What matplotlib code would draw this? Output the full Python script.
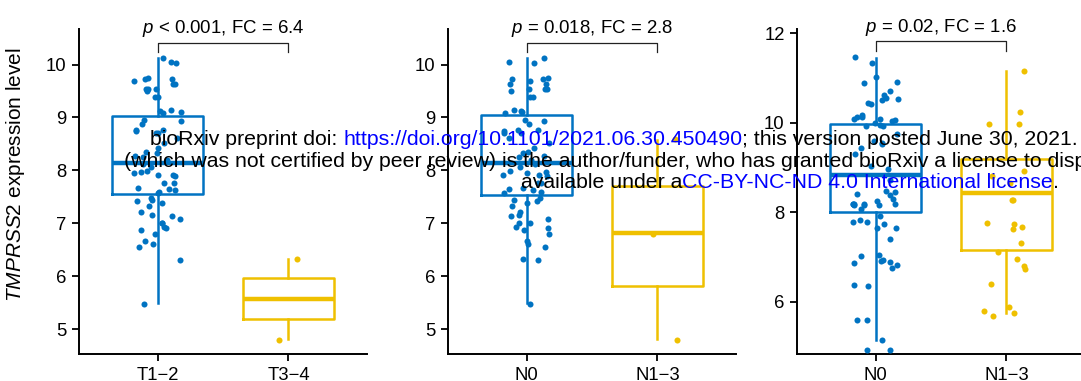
import matplotlib
matplotlib.use("Agg")
import matplotlib.pyplot as plt
import numpy as np

plt.rcParams['font.family'] = ['Liberation Sans', 'DejaVu Sans']
plt.rcParams['mathtext.fontset'] = 'custom'
plt.rcParams['mathtext.rm'] = 'Liberation Sans'
plt.rcParams['mathtext.it'] = 'Liberation Sans:italic'

BLUE = '#0073C2'
GOLD = '#EFC000'

# ---- data ----
low_vals = [10.13, 10.03, 10.05, 9.73, 9.75, 9.63, 9.69, 9.64, 9.73, 9.54, 9.53, 9.50,
            9.53, 9.39, 9.39, 9.13, 9.10, 9.15, 9.09, 8.94, 8.96, 8.87, 8.77, 8.77,
            8.74, 8.71, 8.71, 8.62, 8.51, 8.42, 8.33, 8.35, 8.28, 8.25, 8.19, 8.13,
            8.07, 7.96, 7.92, 7.97, 7.98, 7.90, 7.91, 7.77, 7.77, 7.65, 7.66, 7.60,
            7.57, 7.63, 7.48, 7.38, 7.43, 7.44, 7.33, 7.21, 7.14, 7.16, 7.09, 7.00,
            7.01, 6.94, 6.91, 6.87, 6.80, 6.67, 6.61, 6.55, 6.31, 5.48]

t_groups = ['T1\u22122', 'T3\u22124']
t12_vals = low_vals
t34_vals = [6.33, 4.80]
t_stats = [(5.50, 7.55, 8.14, 9.02, 10.13), (4.81, 5.19, 5.57, 5.96, 6.33)]
t_test = ('<', '0.001', '6.4')

n_groups = ['N0', 'N1\u22123']
n0_vals = low_vals + [6.33]
n13_vals = [8.60, 6.80, 4.80]
n_stats = [(5.50, 7.53, 8.14, 9.05, 10.13), (4.82, 5.81, 6.81, 7.70, 8.58)]
n_test = ('=', '0.018', '2.8')

m_groups = ['N0', 'N1\u22123']
m0_vals = [11.48, 11.33, 11.02, 10.92, 10.88, 10.71, 10.62, 10.56, 10.50, 10.53, 10.44,
           10.41, 10.12, 10.08, 10.17, 10.06, 10.04, 10.14, 10.09, 9.99, 9.96, 9.93,
           9.93, 9.74, 9.59, 9.55, 9.52, 9.43, 9.31, 9.03, 8.96, 8.73, 8.47, 8.41,
           8.45, 8.38, 8.30, 8.26, 8.19, 8.15, 8.19, 8.19, 8.19, 8.17, 8.08, 8.15,
           8.18, 7.92, 7.83, 7.74, 7.77, 7.77, 7.65, 7.65, 7.40, 6.94, 6.91, 7.01,
           7.05, 6.86, 6.89, 6.81, 6.76, 6.38, 6.34, 5.59, 5.58, 5.13, 4.92, 4.92]
m13_vals = [11.16, 10.24, 9.98, 9.98, 8.92, 8.80, 8.66, 8.28, 8.28, 7.76, 7.74, 7.62,
            7.66, 7.31, 7.12, 6.96, 6.79, 6.73, 6.39, 5.78, 5.74, 5.68, 5.87]
m_stats = [(5.14, 8.00, 8.84, 9.97, 11.46), (5.74, 7.15, 8.43, 9.18, 11.16)]
m_test = ('=', '0.02', '1.6')

panels = [
    (t_groups, [t12_vals, t34_vals], t_stats, t_test, (4.528, 10.68), [5, 6, 7, 8, 9, 10], 10.415, 10.24),
    (n_groups, [n0_vals, n13_vals], n_stats, n_test, (4.528, 10.68), [5, 6, 7, 8, 9, 10], 10.415, 10.24),
    (m_groups, [m0_vals, m13_vals], m_stats, m_test, (4.82, 12.11), [6, 8, 10, 12], 11.82, 11.61),
]

W, H = 1081, 381
fig = plt.figure(figsize=(W / 100, H / 100), dpi=100)

lefts = [79, 448, 797]
rng = np.random.default_rng(7)
for left, (groups, vals, stats, test, ylim, yticks, brk_y, brk_tip) in zip(lefts, panels):
    ax = fig.add_axes([left / W, (H - 354.3) / H, 288 / W, (354.3 - 28.5) / H])
    colors = [BLUE, GOLD]
    for i, (v, s, c) in enumerate(zip(vals, stats, colors)):
        pos = i + 1
        st = dict(whislo=s[0], q1=s[1], med=s[2], q3=s[3], whishi=s[4], fliers=[])
        ax.bxp([st], positions=[pos], widths=0.7, showcaps=False,
               boxprops=dict(color=c, lw=1.8),
               whiskerprops=dict(color=c, lw=1.8),
               medianprops=dict(color=c, lw=3.2, solid_capstyle='butt'))
        jit = rng.uniform(-0.18, 0.18, len(v))
        ax.scatter(pos + jit, v, s=19, color=c, lw=0, zorder=3)
    ax.set_xlim(0.4, 2.6)
    ax.set_ylim(*ylim)
    ax.set_yticks(yticks)
    ax.set_xticks([1, 2])
    ax.set_xticklabels(groups)
    for sp in ['top', 'right']:
        ax.spines[sp].set_visible(False)
    for sp in ['left', 'bottom']:
        ax.spines[sp].set_linewidth(1.4)
    ax.tick_params(labelsize=13.3, width=1.3, length=5, colors='black', pad=4)
    # significance bracket
    ax.plot([1, 1, 2, 2], [brk_tip, brk_y, brk_y, brk_tip], color='#222222', lw=0.9,
            clip_on=False)
    ax.text(1.5, brk_y + (ylim[1] - ylim[0]) * 0.012,
            '$p$ %s %s, FC = %s' % test, ha='center', va='bottom', fontsize=13.4)
    if left == lefts[0]:
        ax.set_ylabel('$TMPRSS2$ expression level', fontsize=15)
        ax.yaxis.set_label_coords(-0.18, 0.552)

# bioRxiv stamp overlay
renderer = fig.canvas.get_renderer()
BLINK = '#0000FF'


def stamp(x_px, y_px, parts, size=15.3):
    x = x_px
    for txt, col in parts:
        t = fig.text(x / W, 1 - y_px / H, txt, color=col, fontsize=size,
                     ha='left', va='center')
        x += t.get_window_extent(renderer=renderer).width


stamp(150, 140, [('bioRxiv preprint doi: ', 'black'),
                 ('https://doi.org/10.1101/2021.06.30.450490', BLINK),
                 ('; this version posted June 30, 2021. The copyright holder for this preprint', 'black')])
stamp(124, 161.5, [('(which was not certified by peer review) is the author/funder, who has granted bioRxiv a license to display the preprint in perpetuity. It is made', 'black')])
stamp(521, 183, [('available under a', 'black'),
                 ('CC-BY-NC-ND 4.0 International license', BLINK),
                 ('.', 'black')])

fig.savefig('out.png', dpi=100)
